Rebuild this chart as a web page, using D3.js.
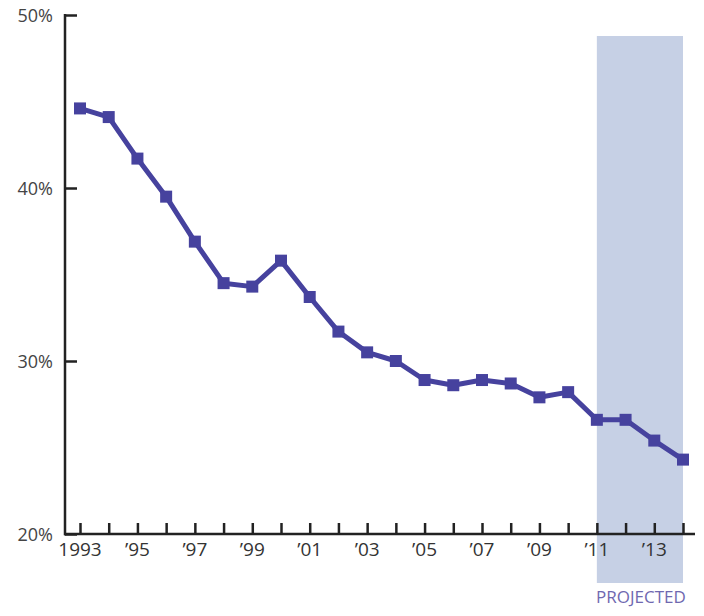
<!DOCTYPE html>
<html><head><meta charset="utf-8">
<script src="https://cdn.jsdelivr.net/npm/d3@7"></script>
<style>body{margin:0;background:#fff}svg{display:block}</style>
</head><body>
<svg id="chart" width="704" height="616"></svg>
<script>
const years = [1993,1994,1995,1996,1997,1998,1999,2000,2001,2002,2003,2004,2005,2006,2007,2008,2009,2010,2011,2012,2013,2014];
const values = [44.6,44.1,41.7,39.5,36.9,34.5,34.3,35.8,33.7,31.7,30.5,30.0,28.9,28.6,28.9,28.7,27.9,28.2,26.6,26.6,25.4,24.3];
const yTicks = [20,30,40,50];
const xTickLabels = ["1993","’95","’97","’99","’01","’03","’05","’07","’09","’11","’13"];
const xLabelYears = [1993,1995,1997,1999,2001,2003,2005,2007,2009,2011,2013];
const projectedRange = [2011,2014];
const projectedLabel = "PROJECTED";

const svg = d3.select("#chart");
const font = "'Open Sans', sans-serif";
const x = d3.scaleLinear().domain([1993,2014]).range([80,683]);
const y = d3.scaleLinear().domain([20,50]).range([534,15]);

// projected band
svg.append("rect")
  .attr("x", x(projectedRange[0])).attr("width", x(projectedRange[1]) - x(projectedRange[0]))
  .attr("y", 36).attr("height", 583 - 36)
  .attr("fill", "#c6d0e5");
svg.append("text").attr("x", (x(projectedRange[0]) + x(projectedRange[1]))/2 + 1).attr("y", 603)
  .attr("text-anchor","middle").attr("font-family", font).attr("font-size", 17)
  .attr("fill","#6f68b0").text(projectedLabel);

// y axis
const yAxis = d3.axisLeft(y).tickValues(yTicks).tickSize(-12).tickPadding(12).tickFormat(d => d + "%");
const gy = svg.append("g").attr("transform","translate(65,0)").call(yAxis);
gy.select(".domain").remove();
gy.selectAll(".tick line").attr("stroke","#222").attr("stroke-width",2.5);
gy.selectAll(".tick text").attr("font-family",font).attr("font-size",18).attr("fill","#444").attr("dy","0.35em");
svg.append("line").attr("x1",65).attr("x2",65).attr("y1",y(50)-1).attr("y2",y(20)+1.2)
  .attr("stroke","#222").attr("stroke-width",2.5);

// x axis
const xAxis = d3.axisBottom(x).tickValues(years).tickSize(-11).tickPadding(0).tickFormat("");
const gx = svg.append("g").attr("transform",`translate(0,${y(20)})`).call(xAxis);
gx.select(".domain").remove();
gx.selectAll(".tick line").attr("stroke","#222").attr("stroke-width",2.5);
svg.append("line").attr("x1",64).attr("x2",695).attr("y1",y(20)).attr("y2",y(20))
  .attr("stroke","#222").attr("stroke-width",2.5);
svg.append("g").selectAll("text").data(xLabelYears).join("text")
  .attr("x", d => x(d)).attr("y", 556)
  .attr("text-anchor","middle").attr("font-family",font).attr("font-size",19).attr("fill","#333")
  .text((d,i) => xTickLabels[i]);

// line
const color = "#46429e";
svg.append("path").datum(values)
  .attr("d", d3.line().x((d,i) => x(years[i])).y(d => y(d)))
  .attr("fill","none").attr("stroke",color).attr("stroke-width",5).attr("stroke-linejoin","round");
svg.append("g").selectAll("rect").data(values).join("rect")
  .attr("x",(d,i) => x(years[i]) - 6).attr("y", d => y(d) - 6)
  .attr("width",12).attr("height",12).attr("fill",color);
</script>
</body></html>
